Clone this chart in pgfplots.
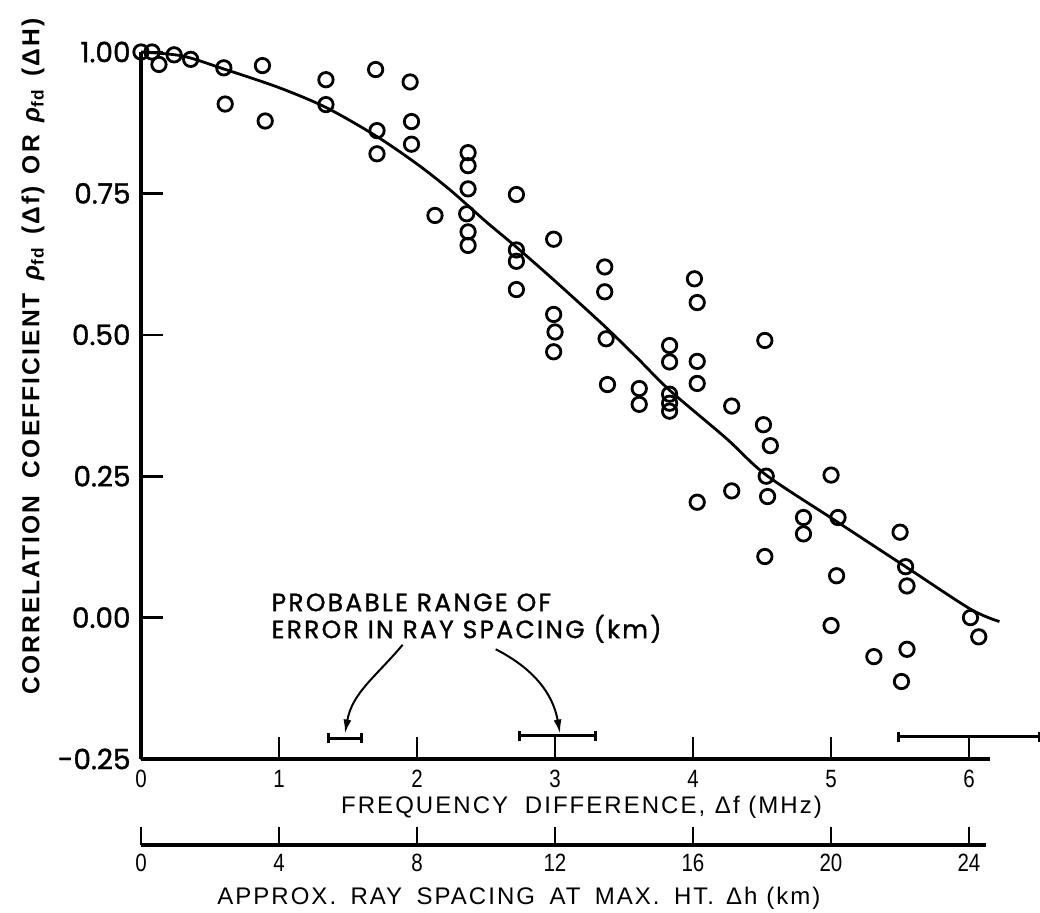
\documentclass[border=0pt]{standalone}
\usepackage{fontspec}
\setmainfont{Liberation Sans}
\newfontfamily\geo{Poppins}[FakeBold=1.2]
\newfontfamily\note{Poppins}[LetterSpace=9, FakeBold=1.2]
\newfontfamily\cond{Liberation Sans}[FakeStretch=0.82]
\newfontfamily\lbl{Liberation Sans}[LetterSpace=8.5]
\usepackage{pgfplots}
\pgfplotsset{compat=1.18}
\usetikzlibrary{arrows.meta}

\pgfplotsset{
    panel/.style={scale only axis, width=424.4pt, height=353.5pt,
        xmin=0, xmax=6.15, ymin=-0.25, ymax=1.0, clip=false},
    rangebar/.style={mark=none, black, error bars/.cd, x dir=both, x explicit,
        error bar style={black, line width=1.5pt},
        error mark options={rotate=90, black, line width=1.5pt, mark size=2.6pt}},
}

\begin{document}
\begin{tikzpicture}
% data layer
\begin{axis}[panel, hide axis]

% measured correlations
\addplot[only marks, mark=o, mark size=3.6pt, mark options={black, line width=1.4pt}]
coordinates {
(0.00,1.000) (0.08,1.000) (0.13,0.978) (0.24,0.995) (0.36,0.987)
(0.60,0.972) (0.61,0.908) (0.88,0.976) (0.90,0.878)
(1.34,0.951) (1.34,0.907)
(1.70,0.969) (1.71,0.861) (1.71,0.820)
(1.95,0.947) (1.96,0.877) (1.96,0.837)
(2.13,0.711)
(2.37,0.822) (2.37,0.799) (2.37,0.758) (2.36,0.714) (2.37,0.682) (2.37,0.658)
(2.72,0.748) (2.72,0.650) (2.72,0.630) (2.72,0.580)
(2.99,0.669) (2.99,0.536) (3.00,0.505) (2.99,0.470)
(3.36,0.620) (3.36,0.576) (3.37,0.493) (3.38,0.412)
(3.61,0.405) (3.61,0.377)
(3.83,0.481) (3.83,0.452) (3.83,0.395) (3.83,0.379) (3.83,0.365)
(4.01,0.599) (4.03,0.557) (4.03,0.453) (4.03,0.414) (4.03,0.204)
(4.28,0.374) (4.28,0.224)
(4.52,0.490) (4.51,0.341) (4.56,0.304) (4.53,0.250) (4.54,0.214) (4.52,0.108)
(4.80,0.177) (4.80,0.148)
(5.00,0.252) (5.05,0.177) (5.04,0.074) (5.00,-0.014)
(5.31,-0.069)
(5.50,0.151) (5.54,0.090) (5.55,0.056) (5.55,-0.056) (5.51,-0.113)
(6.01,0.000) (6.07,-0.034)
};

% fitted curve
\addplot[smooth, black, line width=1.4pt]
coordinates {
(0,1.0) (0.3,0.993) (0.6,0.970) (1.0,0.937) (1.34,0.902) (1.7,0.852)
(2.0,0.802) (2.24,0.756) (2.5,0.700) (2.72,0.655) (3.0,0.595) (3.36,0.515)
(3.6,0.458) (3.83,0.402) (4.24,0.317) (4.53,0.252) (5.04,0.170) (5.54,0.090)
(6.01,0.015) (6.22,-0.007)
};

% probable range of error in ray spacing
\addplot[rangebar] coordinates {(1.478,-0.213) += (0.12,0) -= (0.12,0)};
\addplot[rangebar] coordinates {(3.0,-0.209) += (0.29,0) -= (0.26,0)};
\addplot[rangebar] coordinates {(6.0,-0.211) += (0.51,0) -= (0.51,0)};

\node[font=\note\fontsize{12.5}{13.5}\selectfont, align=left, anchor=west, inner sep=0pt]
    at (axis cs:0.944,-0.001) {PROBABLE RANGE OF\\ERROR IN RAY SPACING (km)};
\draw[line width=1pt, -{Latex[length=7pt,width=4pt]}]
    (axis cs:1.896,-0.048) to[out=-130, in=80] (axis cs:1.478,-0.205);
\draw[line width=1pt, -{Latex[length=7pt,width=4pt]}]
    (axis cs:2.57,-0.056) to[out=-27, in=100] (axis cs:3.036,-0.205);

% axis titles
\node[font=\lbl\fontsize{12}{13}\selectfont, anchor=center]
    at (rel axis cs:0.519,-0.068) {FREQUENCY\hspace{0.7em}DIFFERENCE,\hspace{0.4em}Δf (MHz)};
\node[font=\lbl\bfseries\fontsize{12.3}{13}\selectfont, anchor=center, rotate=90]
    at (rel axis cs:-0.1272,0.569)
    {CORRELATION\hspace{0.7em}COEFFICIENT\hspace{0.5em}{\itshape ρ}\textsubscript{fd}\hspace{0.5em}(Δf)\hspace{0.5em}OR\hspace{0.5em}{\itshape ρ}\textsubscript{fd}\hspace{0.5em}(ΔH)};
\end{axis}

% frame: axis lines, ticks and tick labels
\begin{axis}[
    panel,
    axis x line=bottom, axis y line=left,
    axis line style={-, line width=1.6pt},
    tick align=inside,
    major tick length=11pt,
    tick style={black, line width=1.3pt},
    xtick={0,1,...,6},
    xticklabels={0,1,2,3,4,5,6},
    ytick={-0.25,0,0.25,0.5,0.75,1},
    yticklabels={-0.25,0.00,0.25,0.50,0.75,1.00},
    xticklabel style={font=\cond\fontsize{12.5}{13}\selectfont, anchor=north, inner sep=0pt, yshift=-5.5pt},
    yticklabel style={font=\geo\fontsize{14}{14}\selectfont, anchor=east, inner sep=0pt, xshift=-5pt},
]
\addplot[only marks, mark=none, mark size=0.1pt] coordinates {(0,-0.25)};
\end{axis}

% ray spacing scale
\begin{axis}[
    at={(0pt,-43pt)}, anchor=south west,
    scale only axis,
    width=422.6pt, height=20pt,
    xmin=0, xmax=24.5, ymin=0, ymax=1,
    axis x line=bottom, axis y line=none,
    axis line style={-, line width=1.6pt},
    tick align=inside,
    major tick length=9pt,
    tick style={black, line width=1.3pt},
    xtick={0,4,...,24},
    xticklabels={0,4,8,12,16,20,24},
    xticklabel style={font=\cond\fontsize{12.5}{13}\selectfont, anchor=north, inner sep=0pt, yshift=-4.5pt},
    xlabel={APPROX.\hspace{0.6em}RAY\hspace{0.6em}SPACING\hspace{0.6em}AT\hspace{0.6em}MAX.\hspace{0.6em}HT.\hspace{0.5em}Δh (km)},
    xlabel style={font=\lbl\fontsize{12}{13}\selectfont, at={(rel axis cs:0.447,-1.325)}, anchor=center},
]
\addplot[draw=none] coordinates {(0,0) (24,0)};
\end{axis}

\pgfresetboundingbox
\path (-70.5pt,-76.5pt) rectangle (449.5pt,379.5pt);
\end{tikzpicture}
\end{document}
